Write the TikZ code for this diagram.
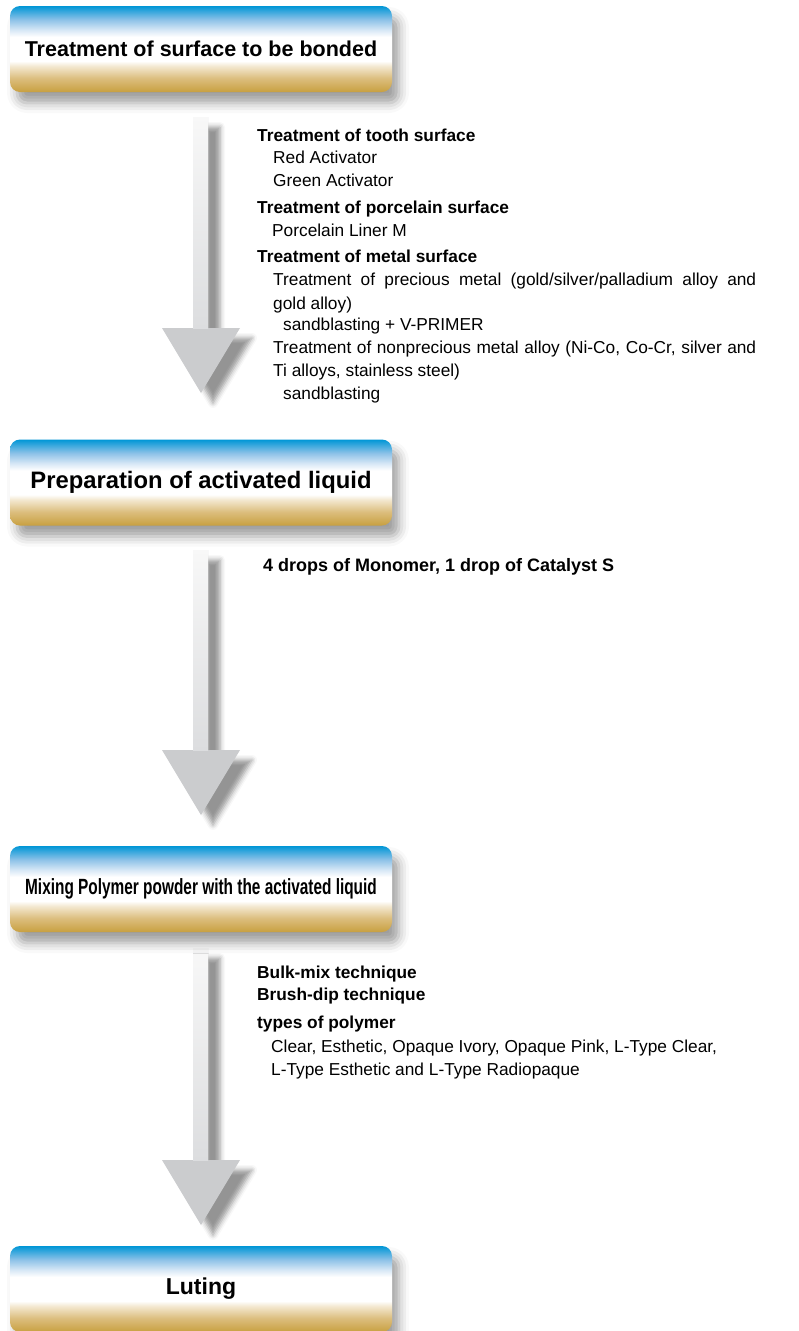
\documentclass[tikz,border=0pt]{standalone}
\usepackage{fontspec}
\setmainfont{Liberation Sans}
\usetikzlibrary{shadows.blur}
\definecolor{boxblue}{HTML}{0096D6}
\definecolor{bluemid}{HTML}{8EC2E8}
\definecolor{bluelight}{HTML}{D8E8F6}
\definecolor{boxgold}{HTML}{C8A040}
\definecolor{goldmid}{HTML}{DCBE7E}
\definecolor{goldlight}{HTML}{F3E8D0}
\definecolor{ahead}{HTML}{CBCCCE}
\definecolor{ashaftlow}{HTML}{DCDDDF}
\definecolor{ashafttop}{HTML}{F8F8F8}
\pgfdeclareverticalshading{boxshade}{100bp}{color(0bp)=(boxgold); color(25bp)=(boxgold); color(33bp)=(goldmid); color(40bp)=(goldlight); color(43bp)=(white); color(57bp)=(white); color(61bp)=(bluelight); color(67bp)=(bluemid); color(75bp)=(boxblue); color(100bp)=(boxblue)}
\pgfdeclareverticalshading{shaftshade}{100bp}{color(0bp)=(ashaftlow); color(25bp)=(ashaftlow); color(75bp)=(ashafttop); color(100bp)=(ashafttop)}
\tikzset{
  stepbox/.style={rounded corners=10pt, minimum width=382pt, minimum height=86pt,
    shading=boxshade, inner sep=0pt,
    blur shadow={shadow xshift=7pt, shadow yshift=-11pt, shadow blur radius=10pt, shadow opacity=38},
    font=\bfseries},
  arrowbody/.style={fill=ahead, draw=none,
    blur shadow={shadow xshift=12pt, shadow yshift=-10pt, shadow blur radius=5pt, shadow opacity=42}},
  shaftbody/.style={shading=shaftshade, draw=none},
  txt/.style={anchor=base west, inner sep=0pt, font=\fontsize{17.3}{20}\selectfont},
  hd/.style={anchor=base west, inner sep=0pt, font=\bfseries\fontsize{17.3}{20}\selectfont},
}
% #1 = shaft top y, #2 = tip y
\newcommand{\flowarrow}[2]{%
  \path[arrowbody] (193,#1) -- (208,#1) -- (208,{#2-65}) -- (240,{#2-65}) -- (201,#2) -- (162,{#2-65}) -- (193,{#2-65}) -- cycle;
  \path[shaftbody] (193,#1) rectangle (208,{#2-65});
}
\begin{document}
\begin{tikzpicture}[x=1pt,y=-1pt]
\useasboundingbox (0,0) rectangle (799,1331);

% arrows
\flowarrow{117}{393}
\flowarrow{550}{815}
\flowarrow{948}{1225}

% boxes
\node[stepbox] (b1) at (201,49) {\fontsize{21.5}{24}\selectfont Treatment of surface to be bonded};
\node[stepbox] (b2) at (201,482.5) {\fontsize{23.8}{26}\selectfont Preparation of activated liquid};
\node[stepbox] (b3) at (201,889) {\fontsize{22}{24}\selectfont\scalebox{0.7}[1]{Mixing Polymer powder with the activated liquid}};
\node[stepbox] (b4) at (201,1289) {\fontsize{23}{25}\selectfont Luting};

% text block 1
\node[hd]  (t1)  at (257,141) {Treatment of tooth surface};
\node[txt] (t2)  at (273,163) {Red Activator};
\node[txt] (t3)  at (273,186) {Green Activator};
\node[hd]  (t4)  at (257,213) {Treatment of porcelain surface};
\node[txt] (t5)  at (272,236) {Porcelain Liner M};
\node[hd]  (t6)  at (257,262) {Treatment of metal surface};
\node[txt] (t7)  at (273,285) {\makebox[483pt][s]{Treatment of precious metal (gold/silver/palladium alloy and}};
\node[txt] (t8)  at (273,309) {gold alloy)};
\node[txt] (t9)  at (283,330) {sandblasting + V-PRIMER};
\node[txt] (t10) at (273,353) {\makebox[483pt][s]{Treatment of nonprecious metal alloy (Ni-Co, Co-Cr, silver and}};
\node[txt] (t11) at (273,376) {Ti alloys, stainless steel)};
\node[txt] (t12) at (283,399) {sandblasting};

% text block 2
\node[hd, font=\bfseries\fontsize{18}{20}\selectfont] (u1) at (263,571) {4 drops of Monomer, 1 drop of Catalyst S};

% text block 3
\node[hd]  (v1) at (257,978)  {Bulk-mix technique};
\node[hd]  (v2) at (257,1000) {Brush-dip technique};
\node[hd]  (v3) at (257,1028) {types of polymer};
\node[txt] (v4) at (271,1052) {Clear, Esthetic, Opaque Ivory, Opaque Pink, L-Type Clear,};
\node[txt] (v5) at (271,1075) {L-Type Esthetic and L-Type Radiopaque};
\end{tikzpicture}
\end{document}
